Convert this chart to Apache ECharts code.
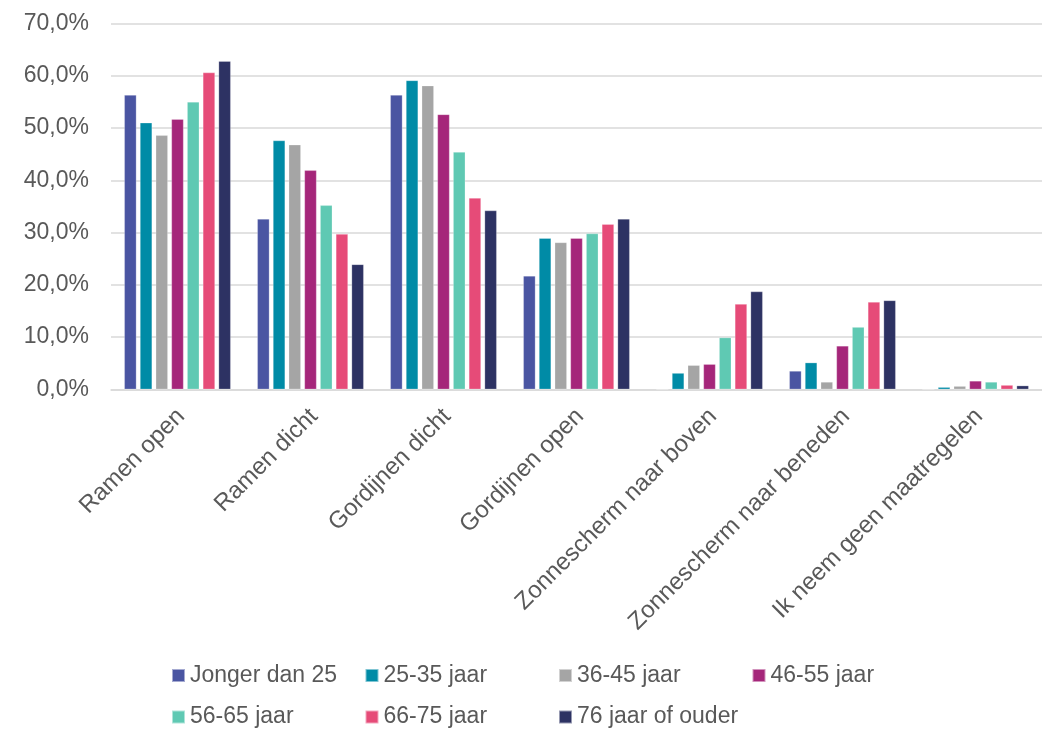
<!DOCTYPE html>
<html>
<head>
<meta charset="utf-8">
<script src="https://cdn.jsdelivr.net/npm/echarts@6/dist/echarts.min.js"></script>
<style>
html,body{margin:0;padding:0;background:#fff;}
#chart{width:1042px;height:729px;}
</style>
</head>
<body>
<div id="chart"></div>
<script>
const categories = ['Ramen open','Ramen dicht','Gordijnen dicht','Gordijnen open','Zonnescherm naar boven','Zonnescherm naar beneden','Ik neem geen maatregelen'];
const seriesNames = ['Jonger dan 25','25-35 jaar','36-45 jaar','46-55 jaar','56-65 jaar','66-75 jaar','76 jaar of ouder'];
const jongerDan25 = [56.3, 32.6, 56.3, 21.7, 0, 3.5, 0];
const jaar25_35 = [51.0, 47.6, 59.1, 28.9, 3.1, 5.1, 0.4];
const jaar36_45 = [48.6, 46.8, 58.1, 28.1, 4.6, 1.4, 0.6];
const jaar46_55 = [51.7, 41.9, 52.6, 28.9, 4.8, 8.3, 1.6];
const jaar56_65 = [55.0, 35.2, 45.4, 29.8, 9.9, 11.9, 1.4];
const jaar66_75 = [60.6, 29.7, 36.6, 31.6, 16.3, 16.7, 0.8];
const jaar76plus = [62.8, 23.9, 34.2, 32.6, 18.7, 17.0, 0.7];
const yTicks = [0, 10, 20, 30, 40, 50, 60, 70];

const allValues = [jongerDan25, jaar25_35, jaar36_45, jaar46_55, jaar56_65, jaar66_75, jaar76plus];
const colors = ['#4A55A2','#008BA6','#A5A5A5','#A5267A','#5FC9B3','#E64B78','#2D3263'];
const FONT = '"Liberation Sans", Arial, sans-serif';
const TXT = '#595959';

const chart = echarts.init(document.getElementById('chart'), null, {renderer:'canvas'});

const legends = seriesNames.map((n, i) => ({
  data: [n],
  left: 171 + (i % 4) * 193.5,
  top: i < 4 ? 664 : 705.5,
  padding: 0,
  itemWidth: 13,
  itemHeight: 13,
  icon: 'rect',
  selectedMode: false,
  textStyle: { color: TXT, fontSize: 23, fontFamily: FONT, lineHeight: 23 }
}));

chart.setOption({
  animation: false,
  color: colors,
  textStyle: { fontFamily: FONT },
  legend: legends,
  grid: { left: 111, top: 23.5, width: 948.5, height: 365.8, containLabel: false },
  xAxis: {
    type: 'category',
    data: categories,
    axisLine: { lineStyle: { color: '#d9d9d9', width: 1.5 } },
    axisTick: { show: false },
    axisLabel: { rotate: 45, margin: 10, verticalAlign: 'top', padding: [0, 7, 0, 0], color: TXT, fontSize: 24, fontFamily: FONT, interval: 0 }
  },
  yAxis: {
    type: 'value',
    min: yTicks[0],
    max: yTicks[yTicks.length - 1],
    interval: 10,
    axisLine: { show: false },
    axisTick: { show: false },
    splitLine: { lineStyle: { color: '#d9d9d9', width: 1.5 } },
    axisLabel: {
      margin: 22, color: TXT, fontSize: 23, fontFamily: FONT,
      formatter: v => v.toFixed(1).replace('.', ',') + '%'
    }
  },
  series: seriesNames.map((n, i) => ({
    name: n,
    type: 'bar',
    data: allValues[i],
    barGap: '30%',
    barCategoryGap: '20%',
    itemStyle: { color: colors[i], borderColor: 'rgba(255,255,255,0.5)', borderWidth: 0.5 }
  }))
});
</script>
</body>
</html>
